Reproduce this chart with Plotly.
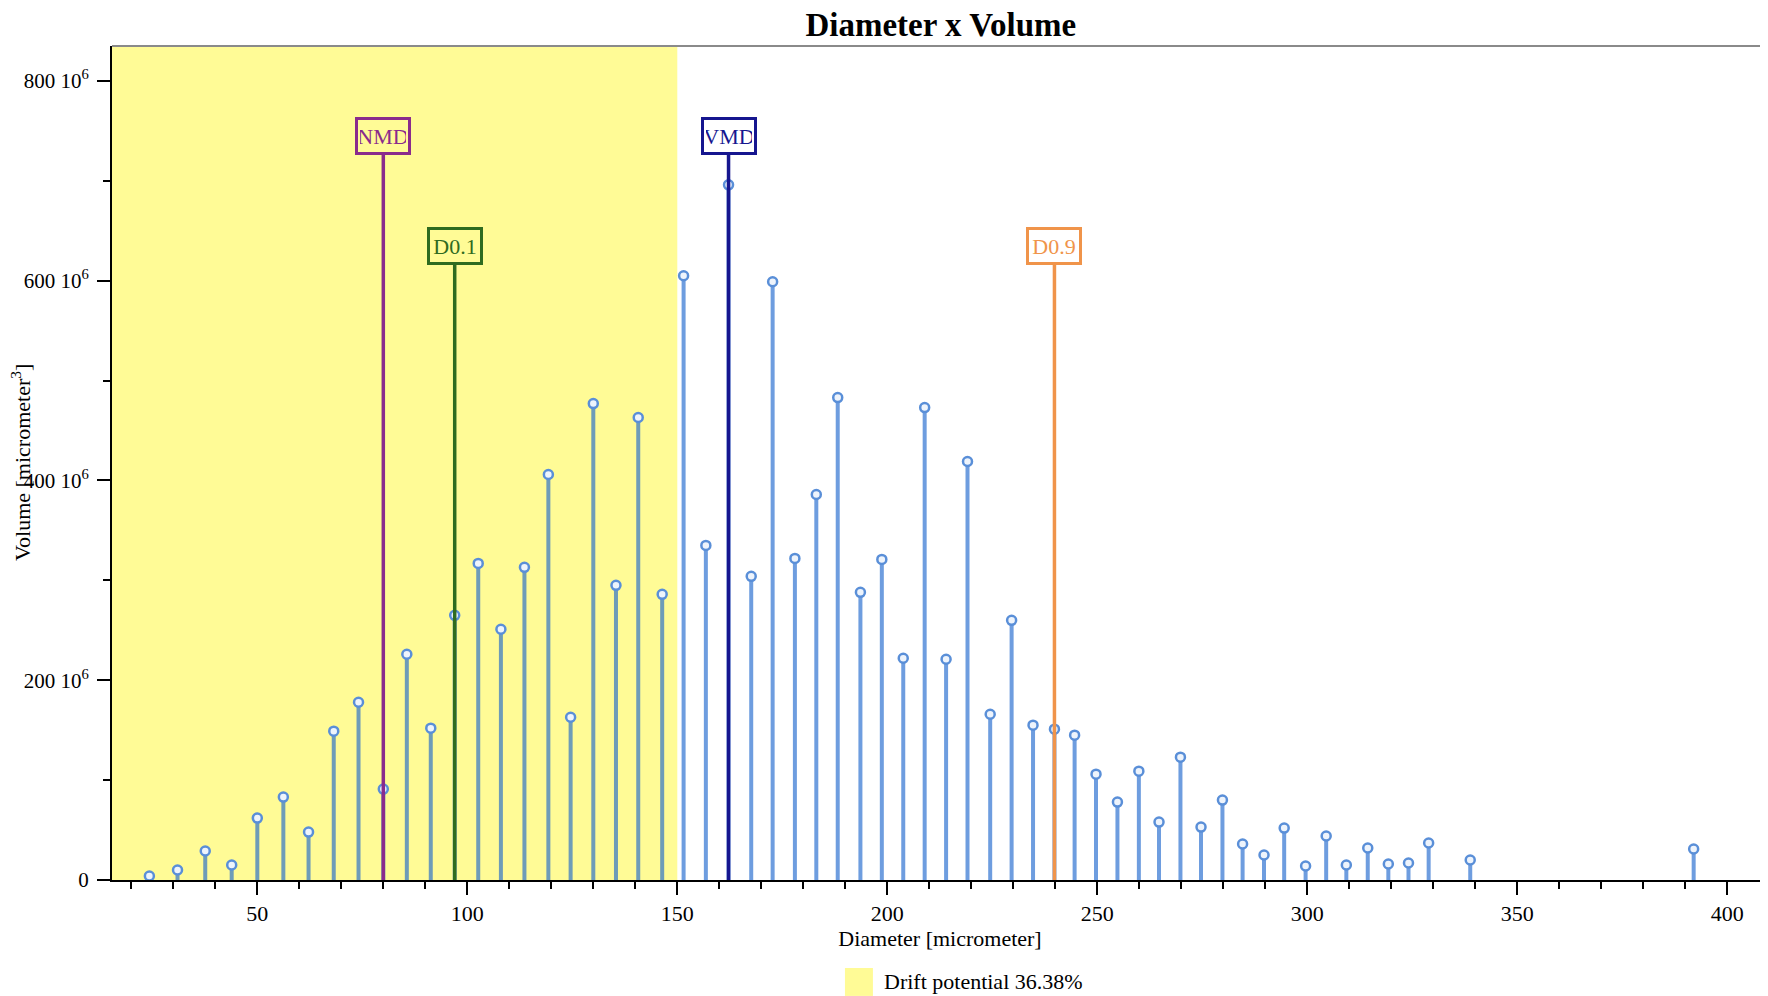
import plotly.graph_objects as go

# ---------------- data ----------------
diameter = [24.3, 31.0, 37.6, 43.9, 50.0, 56.2, 62.2, 68.2, 74.1, 80.0,
            85.6, 91.3, 97.0, 102.6, 108.0, 113.6, 119.3, 124.6, 130.0, 135.4,
            140.7, 146.4, 151.5, 156.8, 162.2, 167.6, 172.7, 178.0, 183.1, 188.2,
            193.6, 198.7, 203.8, 208.9, 214.0, 219.1, 224.5, 229.6, 234.7, 239.8,
            244.6, 249.7, 254.8, 259.9, 264.7, 269.8, 274.7, 279.8, 284.6, 289.7,
            294.5, 299.6, 304.5, 309.3, 314.4, 319.3, 324.1, 328.9, 338.8, 392.0]
volume_1e6 = [4, 10, 29, 15, 62, 83, 48, 149, 178, 91,
              226, 152, 265, 317, 251, 313, 406, 163, 477, 295,
              463, 286, 605, 335, 696, 304, 599, 322, 386, 483,
              288, 321, 222, 473, 221, 419, 166, 260, 155, 151,
              145, 106, 78, 109, 58, 123, 53, 80, 36, 25,
              52, 14, 44, 15, 32, 16, 17, 37, 20, 31]

marker_names = ["NMD", "D0.1", "VMD", "D0.9"]
marker_diameters = [80.0, 97.0, 162.2, 239.8]

drift_limit = 150
drift_label = "Drift potential 36.38%"

x_tick_vals = [50, 100, 150, 200, 250, 300, 350, 400]
y_tick_vals = [0, 200, 400, 600, 800]
y_tick_text = ["0", "200 10<sup>6</sup>", "400 10<sup>6</sup>",
               "600 10<sup>6</sup>", "800 10<sup>6</sup>"]

# ---------------- style ----------------
FONT = "Liberation Serif"
marker_colors = ["#8a2b8c", "#2f6b1f", "#16168f", "#f0944a"]
label_levels = [745, 635, 745, 635]
X_RANGE = [15.4, 409.7]
Y_RANGE = [0, 835]
W, H = 1760, 988          # page body adds an 8px offset
ML, MT, MB = 104, 38, 116

fig = go.Figure()

# stems
sx, sy = [], []
for d, v in zip(diameter, volume_1e6):
    sx += [d, d, None]
    sy += [0, v, None]
fig.add_trace(go.Scatter(x=sx, y=sy, mode="lines",
                         line=dict(color="rgba(25,100,205,0.63)", width=4),
                         hoverinfo="skip", showlegend=False))
# stem heads
fig.add_trace(go.Scatter(x=diameter, y=volume_1e6, mode="markers",
                         marker=dict(size=9, color="#eef4fc",
                                     line=dict(color="#5a8fd8", width=2.5)),
                         showlegend=False, name="Volume"))

# characteristic diameters
for name, d, c, lvl in zip(marker_names, marker_diameters, marker_colors, label_levels):
    fig.add_trace(go.Scatter(x=[d, d], y=[0, lvl - 18], mode="lines",
                             line=dict(color=c, width=3.5),
                             hoverinfo="skip", showlegend=False))
    fig.add_annotation(x=d, y=lvl, xref="x", yref="y", text=name,
                       showarrow=False, font=dict(family=FONT, size=22, color=c),
                       bordercolor=c, borderwidth=3, borderpad=2,
                       bgcolor="rgba(0,0,0,0)", width=46, height=28,
                       xanchor="center", yanchor="middle")

# drift region
fig.add_shape(type="rect", xref="x", yref="paper", x0=0, x1=drift_limit,
              y0=0, y1=1, fillcolor="#fffb96", line=dict(width=0), layer="below")
# top border
fig.add_shape(type="line", xref="paper", yref="paper", x0=0, x1=1, y0=1, y1=1,
              line=dict(color="#8a8a8a", width=2))

# manual legend
fig.add_shape(type="rect", xref="paper", yref="paper",
              x0=0.4426, x1=0.4595, y0=-0.1055, y1=-0.139,
              fillcolor="#fffb96", line=dict(width=0))
fig.add_annotation(xref="paper", yref="paper", x=0.465, y=-0.1223,
                   xanchor="left", yanchor="middle", showarrow=False,
                   text=drift_label, font=dict(family=FONT, size=22, color="black"))

# y axis title
fig.add_annotation(xref="paper", yref="paper", x=(13 - ML) / (W - ML), y=0.5,
                   xanchor="center", yanchor="middle", showarrow=False, textangle=-90,
                   text="Volume [micrometer<sup>3</sup>]",
                   font=dict(family=FONT, size=22, color="black"))

fig.update_layout(
    width=W, height=H,
    margin=dict(l=ML, r=0, t=MT, b=MB),
    paper_bgcolor="white", plot_bgcolor="white",
    font=dict(family=FONT, color="black"),
    title=dict(text="<b>Diameter x Volume</b>", x=0.530, xanchor="center",
               y=1 - 16 / H, yanchor="middle", yref="container",
               font=dict(family=FONT, size=33, color="black")),
    showlegend=False,
)
fig.update_xaxes(range=X_RANGE, showgrid=False, zeroline=False,
                 showline=True, linecolor="black", linewidth=2,
                 ticks="outside", tickvals=x_tick_vals, ticklen=13, tickwidth=2,
                 tickcolor="black", tickfont=dict(family=FONT, size=22),
                 minor=dict(tick0=0, dtick=10, ticks="outside", ticklen=7,
                            tickwidth=1.5, tickcolor="black", showgrid=False),
                 title=dict(text="Diameter [micrometer]", standoff=4,
                            font=dict(family=FONT, size=22)))
fig.update_yaxes(range=Y_RANGE, showgrid=False, zeroline=False,
                 showline=True, linecolor="black", linewidth=2,
                 ticks="outside", tickvals=y_tick_vals, ticktext=y_tick_text,
                 ticklen=13, tickwidth=2, tickcolor="black",
                 tickfont=dict(family=FONT, size=21), ticklabelstandoff=4,
                 minor=dict(tick0=0, dtick=100, ticks="outside", ticklen=7,
                            tickwidth=1.5, tickcolor="black", showgrid=False))

fig.write_html("out.html")
